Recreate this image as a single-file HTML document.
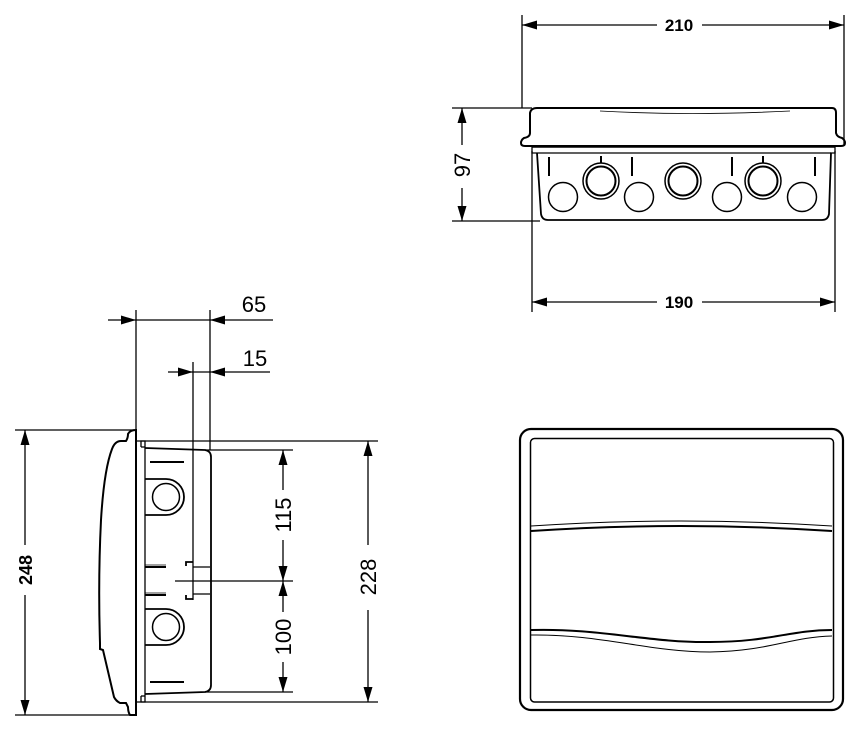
<!DOCTYPE html>
<html><head><meta charset="utf-8"><style>
html,body{margin:0;padding:0;background:#fff;}
svg{display:block;}
text{font-family:"Liberation Sans",Arial,sans-serif;fill:#000;}
</style></head><body>
<svg width="867" height="735" viewBox="0 0 867 735" xmlns="http://www.w3.org/2000/svg">
<g fill="none" stroke="#000" stroke-width="1.3">
<line x1="522" y1="15" x2="522" y2="108"/>
<line x1="844" y1="15" x2="844" y2="145"/>
<line x1="522" y1="25" x2="657" y2="25"/>
<line x1="702" y1="25" x2="844" y2="25"/>
<line x1="532" y1="151" x2="532" y2="312"/>
<line x1="835" y1="151" x2="835" y2="312"/>
<line x1="532" y1="302" x2="657" y2="302"/>
<line x1="702" y1="302" x2="835" y2="302"/>
<line x1="452" y1="108" x2="532" y2="108"/>
<line x1="452" y1="221" x2="540" y2="221"/>
<line x1="462" y1="108" x2="462" y2="145"/>
<line x1="462" y1="188" x2="462" y2="221"/>
<path d="M537,108 L832,108 Q836,108 836,113 L836,133 Q837,137 842,138 Q845,140 845,143 Q845,146 841,146 L525,146 Q521,146 521,143 Q521,140 524,138 Q530,137 530,133 L530,113 Q531,108 537,108 Z" stroke-width="2"/>
<path d="M600,111 Q690,116 790,111" stroke-width="0.8"/>
<path d="M532,147 L835,147" stroke-width="1.5"/>
<path d="M532,147 L532,153 L537,153 L537,153" />
<path d="M835,147 L835,153 L830,153"/>
<path d="M537,153 L541,214 Q542,220 548,220 L822,220 Q828,220 829,214 L831,153" stroke-width="1.8"/>
<line x1="537" y1="153" x2="831" y2="153"/>
<g stroke-width="2">
<line x1="549" y1="157" x2="549" y2="176"/>
<line x1="632" y1="157" x2="632" y2="176"/>
<line x1="732" y1="157" x2="732" y2="176"/>
<line x1="815" y1="157" x2="815" y2="176"/>
<line x1="601" y1="156" x2="601" y2="163"/>
<line x1="763" y1="156" x2="763" y2="163"/>
</g>
<circle cx="563" cy="197" r="14.5" stroke-width="1.5"/>
<circle cx="639" cy="197" r="14.5" stroke-width="1.5"/>
<circle cx="727" cy="197" r="14.5" stroke-width="1.5"/>
<circle cx="802" cy="197" r="14.5" stroke-width="1.5"/>
<circle cx="601" cy="181" r="18" stroke-width="1.5"/>
<circle cx="601" cy="181" r="14.5" stroke-width="2"/>
<circle cx="683" cy="181" r="18" stroke-width="1.5"/>
<circle cx="683" cy="181" r="14.5" stroke-width="2"/>
<circle cx="763" cy="181" r="18" stroke-width="1.5"/>
<circle cx="763" cy="181" r="14.5" stroke-width="2"/>

<rect x="520" y="429" width="323" height="281" rx="11" stroke-width="2.2"/>
<rect x="530.5" y="438.5" width="303" height="263.5" rx="4" stroke-width="1.5"/>
<path d="M531,526 Q680,516 832,526" stroke-width="1"/>
<path d="M531,531 Q680,521 832,531" stroke-width="2"/>
<path d="M531,630 C600,628 650,643 710,642 C770,642 790,630 832,630" stroke-width="2"/>
<path d="M531,635 C600,634 650,652 710,652 C770,651 790,637 832,636" stroke-width="1"/>

<line x1="15" y1="430" x2="135" y2="430"/>
<line x1="15" y1="715" x2="135" y2="715"/>
<line x1="25" y1="430" x2="25" y2="545"/>
<line x1="25" y1="595" x2="25" y2="715"/>
<line x1="136" y1="441" x2="378" y2="441"/>
<line x1="136" y1="702" x2="378" y2="702"/>
<line x1="368" y1="441" x2="368" y2="545"/>
<line x1="368" y1="610" x2="368" y2="702"/>
<line x1="205" y1="450" x2="293" y2="450"/>
<line x1="205" y1="692" x2="293" y2="692"/>
<line x1="175" y1="581" x2="293" y2="581"/>
<line x1="283" y1="450" x2="283" y2="490"/>
<line x1="283" y1="540" x2="283" y2="581"/>
<line x1="283" y1="581" x2="283" y2="612"/>
<line x1="283" y1="662" x2="283" y2="692"/>
<line x1="136" y1="310" x2="136" y2="430"/>
<line x1="210" y1="310" x2="210" y2="450"/>
<line x1="108" y1="320" x2="273" y2="320"/>
<line x1="193" y1="362" x2="193" y2="600"/>
<line x1="168" y1="372" x2="270" y2="372"/>
<path d="M136,430 L136,715 L130,715 Q128,712 128,707 L126,703 L120,703 Q116,701 114,697 L103,650 L100,649 L100,643 Q98,580 101,520 Q104,470 112,449 Q115,441 121,441 L126,441 Q128,438 128,434 Q130,430 136,430 Z" stroke-width="2"/>
<path d="M141,447 L141,441 L145,441 L145,702 L141,702 L141,696" />
<path d="M145,448 L205,450 Q211,451 211,457 L211,685 Q211,691 205,692 L145,694" stroke-width="1.8"/>
<line x1="141" y1="447" x2="145" y2="447"/>
<line x1="141" y1="696" x2="145" y2="696"/>
<g stroke-width="2">
<line x1="150" y1="462" x2="184" y2="462"/>
<line x1="150" y1="682" x2="184" y2="682"/>
<line x1="145" y1="567" x2="166" y2="567"/>
<line x1="145" y1="595" x2="166" y2="595"/>
</g>
<line x1="145" y1="565" x2="166" y2="565" stroke-width="0.8"/>
<line x1="145" y1="593" x2="166" y2="593" stroke-width="0.8"/>
<path d="M145,479 L166,479 A18,18 0 0 1 166,515 L145,515" stroke-width="1.8"/>
<circle cx="166" cy="497" r="13.5" stroke-width="1.5"/>
<path d="M145,609 L166,609 A18,18 0 0 1 166,645 L145,645" stroke-width="1.8"/>
<circle cx="166" cy="627" r="13.5" stroke-width="1.5"/>
<path d="M186,566 L186,562 L193,562" stroke-width="1.8"/>
<path d="M186,595 L186,599 L193,599" stroke-width="1.8"/>
<line x1="193" y1="567" x2="210" y2="567"/>
<line x1="193" y1="594" x2="210" y2="594"/>
</g>

<g fill="#000" stroke="none">
<polygon points="522,25 537,20.5 537,29.5"/>
<polygon points="844,25 829,20.5 829,29.5"/>
<polygon points="532,302 547,297.5 547,306.5"/>
<polygon points="835,302 820,297.5 820,306.5"/>
<polygon points="462,108 457.5,123 466.5,123"/>
<polygon points="462,221 457.5,206 466.5,206"/>
<polygon points="25,430 20.5,445 29.5,445"/>
<polygon points="25,715 20.5,700 29.5,700"/>
<polygon points="368,441 363.5,456 372.5,456"/>
<polygon points="368,702 363.5,687 372.5,687"/>
<polygon points="283,450 278.5,465 287.5,465"/>
<polygon points="283,581 278.5,566 287.5,566"/>
<polygon points="283,581 278.5,596 287.5,596"/>
<polygon points="283,692 278.5,677 287.5,677"/>
<polygon points="136,320 121,315.5 121,324.5"/>
<polygon points="210,320 225,315.5 225,324.5"/>
<polygon points="193,372 178,367.5 178,376.5"/>
<polygon points="210,372 225,367.5 225,376.5"/>
</g>

<text x="679" y="31" font-size="17" font-weight="bold" text-anchor="middle">210</text>
<text x="679" y="308" font-size="17" font-weight="bold" text-anchor="middle">190</text>
<text transform="translate(470,165) rotate(-90)" font-size="22" text-anchor="middle">97</text>
<text x="254" y="312" font-size="22" text-anchor="middle">65</text>
<text x="255" y="366" font-size="22" text-anchor="middle">15</text>
<text transform="translate(32,570) rotate(-90)" font-size="18" text-anchor="middle" font-weight="bold">248</text>
<text transform="translate(291,515) rotate(-90)" font-size="22" text-anchor="middle">115</text>
<text transform="translate(291,637) rotate(-90)" font-size="22" text-anchor="middle">100</text>
<text transform="translate(376,577) rotate(-90)" font-size="22" text-anchor="middle">228</text>
</svg>
</body></html>
